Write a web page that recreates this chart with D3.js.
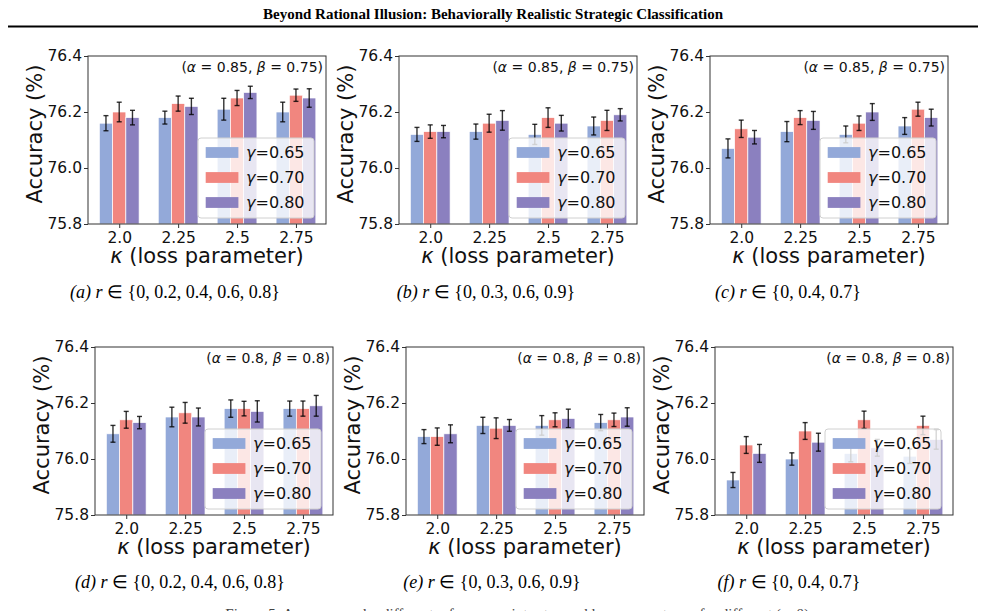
<!DOCTYPE html>
<html>
<head>
<meta charset="utf-8">
<script src="https://cdn.jsdelivr.net/npm/d3@7"></script>
<style>
body { margin: 0; background: #fff; }
</style>
</head>
<body>
<script>
//Data
const kappaLabels = ["2.0", "2.25", "2.5", "2.75"];
const gammaLabels = ["0.65", "0.70", "0.80"];
const yTickValues = [75.8, 76.0, 76.2, 76.4];
const panelTags = ["a", "b", "c", "d", "e", "f"];
const rSets = ["{0, 0.2, 0.4, 0.6, 0.8}", "{0, 0.3, 0.6, 0.9}", "{0, 0.4, 0.7}", "{0, 0.2, 0.4, 0.6, 0.8}", "{0, 0.3, 0.6, 0.9}", "{0, 0.4, 0.7}"];
const alphaValues = ["0.85", "0.85", "0.85", "0.8", "0.8", "0.8"];
const betaValues = ["0.75", "0.75", "0.75", "0.8", "0.8", "0.8"];

//rows = gamma series, columns = kappa
const meanA = [[76.16, 76.18, 76.21, 76.20], [76.20, 76.23, 76.25, 76.26], [76.18, 76.22, 76.27, 76.25]];
const errA = [[0.027, 0.023, 0.039, 0.035], [0.035, 0.027, 0.027, 0.022], [0.026, 0.029, 0.022, 0.033]];
const meanB = [[76.12, 76.13, 76.12, 76.15], [76.13, 76.16, 76.18, 76.17], [76.13, 76.17, 76.16, 76.19]];
const errB = [[0.025, 0.027, 0.036, 0.032], [0.024, 0.032, 0.035, 0.036], [0.022, 0.035, 0.028, 0.022]];
const meanC = [[76.07, 76.13, 76.12, 76.15], [76.14, 76.18, 76.16, 76.21], [76.11, 76.17, 76.20, 76.18]];
const errC = [[0.034, 0.036, 0.030, 0.030], [0.031, 0.025, 0.026, 0.025], [0.024, 0.032, 0.030, 0.030]];
const meanD = [[76.09, 76.15, 76.18, 76.18], [76.14, 76.165, 76.18, 76.18], [76.13, 76.15, 76.17, 76.19]];
const errD = [[0.030, 0.035, 0.031, 0.027], [0.030, 0.037, 0.026, 0.027], [0.022, 0.032, 0.038, 0.037]];
const meanE = [[76.08, 76.12, 76.12, 76.13], [76.08, 76.11, 76.14, 76.14], [76.09, 76.12, 76.145, 76.15]];
const errE = [[0.025, 0.029, 0.035, 0.029], [0.031, 0.037, 0.025, 0.024], [0.032, 0.021, 0.033, 0.033]];
const meanF = [[75.925, 76.00, 76.02, 76.01], [76.05, 76.10, 76.14, 76.12], [76.02, 76.06, 76.04, 76.07]];
const errF = [[0.027, 0.022, 0.030, 0.026], [0.030, 0.030, 0.031, 0.033], [0.032, 0.032, 0.030, 0.035]];

const panelMeans = [meanA, meanB, meanC, meanD, meanE, meanF];
const panelErrs = [errA, errB, errC, errD, errE, errF];

//Settings
var width = 985;
var height = 611;
var axW = 238;
var axH = 168;
var barUnit = 0.225;
var colors = ["#93a9d9", "#f1867f", "#8b80bf"];
var sans = "'DejaVu Sans', sans-serif";
var serif = "'Liberation Serif', 'Times New Roman', serif";
var panelPos = [[88, 56], [399, 56], [710, 56], [95, 347], [406, 347], [715, 347]];
var captionPos = [[175, 298], [486, 298], [788, 298], [180, 588], [492, 588], [789, 588]];

var svg = d3.select("body").append("svg").attr("width", width).attr("height", height).attr("xmlns", "http://www.w3.org/2000/svg");

//Header
svg.append("text").attr("x", 493).attr("y", 19).attr("text-anchor", "middle").attr("font-family", serif).attr("font-weight", "bold").attr("font-size", 15).text("Beyond Rational Illusion: Behaviorally Realistic Strategic Classification");
svg.append("line").attr("x1", 8).attr("x2", 978).attr("y1", 26.5).attr("y2", 26.5).attr("stroke", "#000").attr("stroke-width", 2);

var x = d3.scaleLinear().domain([-0.53, 3.51]).range([0, axW]);
var y = d3.scaleLinear().domain([75.8, 76.4]).range([axH, 0]);
var barW = x(barUnit) - x(0);

for (let p = 0; p < 6; p++) {
    var g = svg.append("g").attr("transform", "translate(" + panelPos[p][0] + "," + panelPos[p][1] + ")");
    var means = panelMeans[p];
    var errs = panelErrs[p];

    //Bars
    for (let s = 0; s < gammaLabels.length; s++) {
        var sg = g.append("g");
        sg.selectAll("rect").data(means[s]).enter().append("rect")
            .attr("x", (d, i) => x(i + (s - 1) * barUnit) - barW / 2)
            .attr("y", d => y(d))
            .attr("width", barW)
            .attr("height", d => axH - y(d))
            .attr("fill", colors[s])
            .attr("stroke", "#fff").attr("stroke-width", 0.7);
    }

    //Error bars
    for (let s = 0; s < gammaLabels.length; s++) {
        var eg = g.append("g").attr("stroke", "#000").attr("stroke-opacity", 0.8).attr("stroke-width", 1.4);
        means[s].forEach((m, i) => {
            var cx = x(i + (s - 1) * barUnit);
            var lo = y(m - errs[s][i]);
            var hi = y(m + errs[s][i]);
            eg.append("line").attr("x1", cx).attr("x2", cx).attr("y1", lo).attr("y2", hi);
            eg.append("line").attr("x1", cx - 2.5).attr("x2", cx + 2.5).attr("y1", lo).attr("y2", lo);
            eg.append("line").attr("x1", cx - 2.5).attr("x2", cx + 2.5).attr("y1", hi).attr("y2", hi);
        });
    }

    //Axes
    var ya = g.append("g").call(d3.axisLeft(y).tickValues(yTickValues).tickFormat(d3.format(".1f")).tickSize(4).tickPadding(2));
    var xa = g.append("g").attr("transform", "translate(0," + axH + ")").call(d3.axisBottom(x).tickValues([0, 1, 2, 3]).tickFormat(i => kappaLabels[i]).tickSize(4).tickPadding(4));
    [ya, xa].forEach(a => {
        a.select(".domain").remove();
        a.selectAll("line").attr("stroke", "#333");
        a.selectAll("text").attr("font-family", sans).attr("font-size", 15.5).attr("fill", "#111");
    });
    g.append("rect").attr("x", 0).attr("y", 0).attr("width", axW).attr("height", axH).attr("fill", "none").attr("stroke", "#333").attr("stroke-width", 1);

    //Axis labels
    g.append("text").attr("transform", "translate(-46.5," + (axH / 2 - 6) + ") rotate(-90)").attr("text-anchor", "middle").attr("font-family", sans).attr("font-size", 21).attr("fill", "#111").text("Accuracy (%)");
    var xl = g.append("text").attr("x", axW / 2).attr("y", axH + 39).attr("text-anchor", "middle").attr("font-family", sans).attr("font-size", 21).attr("fill", "#111");
    xl.append("tspan").attr("font-style", "italic").text("κ");
    xl.append("tspan").text(" (loss parameter)");

    //Annotation
    var an = g.append("text").attr("x", axW - 3).attr("y", 16).attr("text-anchor", "end").attr("font-family", sans).attr("font-size", 14).attr("fill", "#111");
    an.append("tspan").text("(");
    an.append("tspan").attr("font-style", "italic").text("α");
    an.append("tspan").text(" = " + alphaValues[p] + ", ");
    an.append("tspan").attr("font-style", "italic").text("β");
    an.append("tspan").text(" = " + betaValues[p] + ")");

    //Legend
    var lw = 116, lh = 80;
    var lg = g.append("g").attr("transform", "translate(" + (axW - 12 - lw) + "," + (axH - 6 - lh) + ")");
    lg.append("rect").attr("width", lw).attr("height", lh).attr("rx", 3).attr("fill", "#fff").attr("fill-opacity", 0.8).attr("stroke", "#d0d0d0").attr("stroke-width", 1);
    gammaLabels.forEach((lab, s) => {
        var ry = 14.5 + s * 25;
        lg.append("rect").attr("x", 7.7).attr("y", ry - 5.4).attr("width", 32.7).attr("height", 10.8).attr("fill", colors[s]);
        var t = lg.append("text").attr("x", 48).attr("y", ry + 5.8).attr("font-family", sans).attr("font-size", 16).attr("fill", "#111");
        t.append("tspan").attr("font-style", "italic").text("γ");
        t.append("tspan").text("=" + lab);
    });

    //Caption
    var cap = svg.append("text").attr("x", captionPos[p][0]).attr("y", captionPos[p][1]).attr("text-anchor", "middle").attr("font-family", serif).attr("font-size", 18);
    cap.append("tspan").attr("font-style", "italic").text("(" + panelTags[p] + ")");
    cap.append("tspan").text(" ");
    cap.append("tspan").attr("font-style", "italic").text("r");
    cap.append("tspan").text(" ∈ " + rSets[p]);
}

//Figure caption (cut at the bottom edge, as in the page)
svg.append("text").attr("x", 519).attr("y", 619).attr("text-anchor", "middle").attr("font-family", serif).attr("font-size", 15).attr("fill", "#444").text("Figure 5: Accuracy under different reference point sets r and loss parameters κ for different (α, β).");
</script>
</body>
</html>
